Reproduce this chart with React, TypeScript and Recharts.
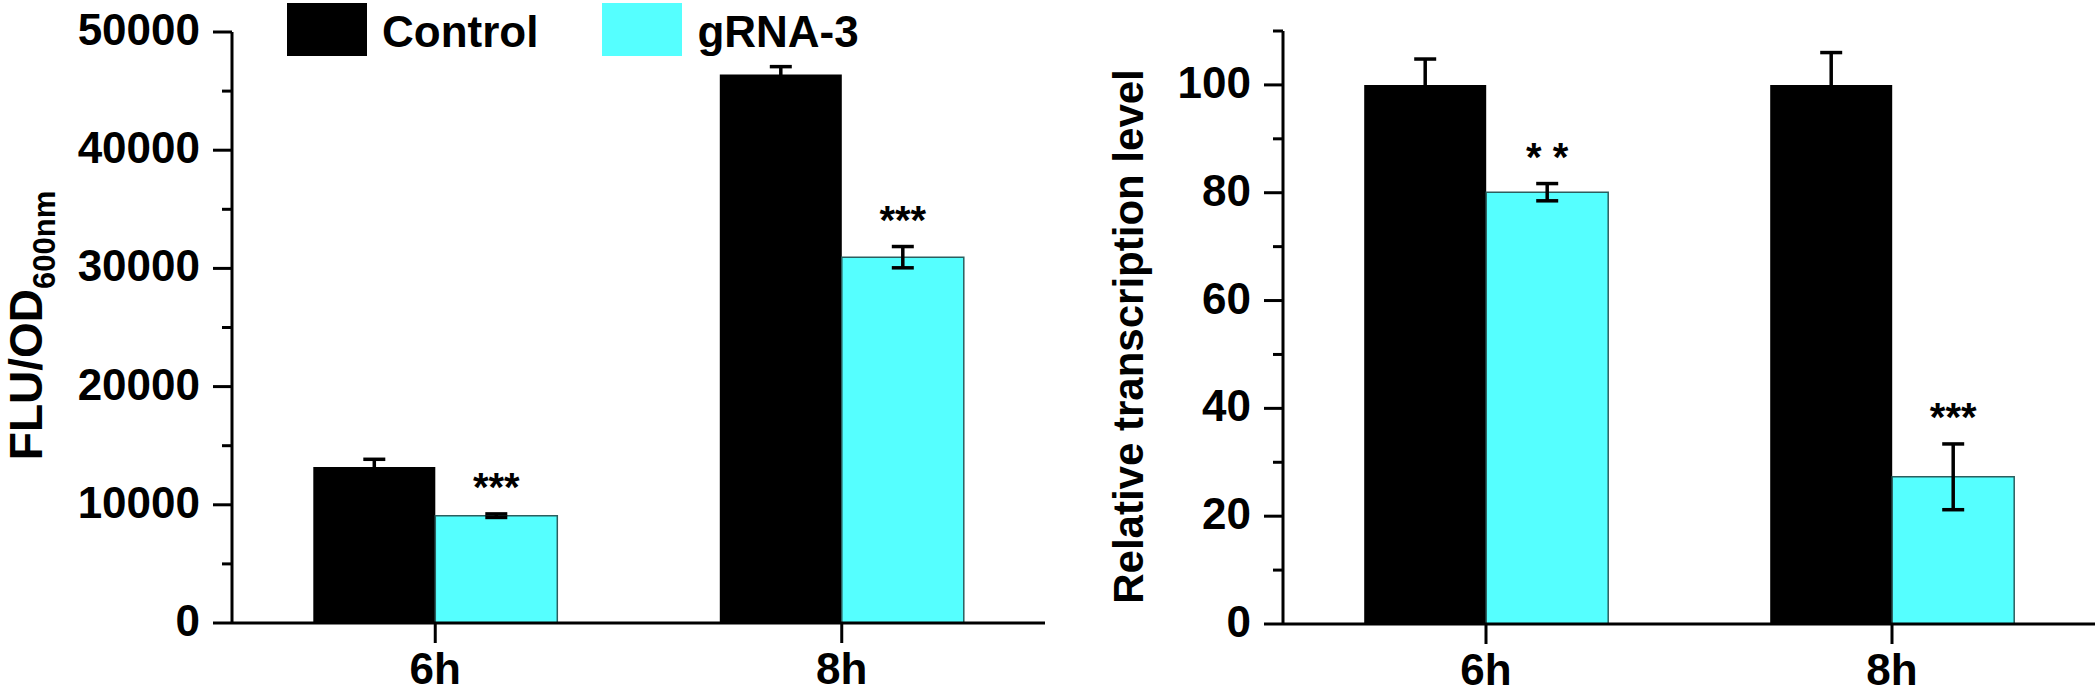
import React from 'react';
import { BarChart, Bar, XAxis, YAxis, ErrorBar, Legend, LabelList, Label } from 'recharts';

const FONT = '"Liberation Sans", Arial, Helvetica, sans-serif';
const CYAN = '#55ffff';

const times = ['6h', '8h'];

// left panel: FLU/OD600nm
const fluControl = [13200, 46400];
const fluControlErr = [650, 670];
const fluGrna = [9080, 30950];
const fluGrnaErr = [150, 900];
const fluStars = ['***', '***'];
const fluTicks = [0, 5000, 10000, 15000, 20000, 25000, 30000, 35000, 40000, 45000, 50000];

// right panel: relative transcription level
const txControl = [100, 100];
const txControlErr = [4.8, 6];
const txGrna = [80.1, 27.3];
const txGrnaErr = [1.6, 6.1];
const txStars = ['* *', '***'];
const txTicks = [0, 10, 20, 30, 40, 50, 60, 70, 80, 90, 100, 110];

const buildRows = (ctrl, ctrlErr, grna, grnaErr, stars) =>
  times.map((t, i) => ({
    time: t,
    control: ctrl[i],
    controlErr: ctrlErr[i],
    grna: grna[i],
    grnaErr: grnaErr[i],
    stars: stars[i],
  }));

const fluRows = buildRows(fluControl, fluControlErr, fluGrna, fluGrnaErr, fluStars);
const txRows = buildRows(txControl, txControlErr, txGrna, txGrnaErr, txStars);

// major ticks get a label and a long tick, minor ones only a short tick
const YTick = (props) => {
  const { x, y, payload, majorStep } = props;
  const major = payload.value % majorStep === 0;
  return (
    <g>
      <line x1={x - (major ? 19 : 10)} x2={x} y1={y} y2={y} stroke="#000" strokeWidth={3} />
      {major && (
        <text x={x - 32} y={y} dy={13} textAnchor="end" fontSize={44} fontWeight="bold" fontFamily={FONT} fill="#000">
          {payload.value}
        </text>
      )}
    </g>
  );
};

const XTick = (props) => {
  const { x, y, payload } = props;
  return (
    <g>
      <line x1={x} x2={x} y1={y} y2={y + 20} stroke="#000" strokeWidth={3} />
      <text x={x} y={y + 61} textAnchor="middle" fontSize={44} fontWeight="bold" fontFamily={FONT} fill="#000">
        {payload.value}
      </text>
    </g>
  );
};

// significance stars sit a little above the top of the error bar
const starLabel = (rows) => (p) => {
  const vb = p.viewBox || p;
  const { x, y, width, height } = vb;
  const row = rows[p.index] || rows.find((r) => r.stars === p.value);
  const errPx = row ? (row.grnaErr * Math.abs(height)) / row.grna : 0;
  const cy = Math.min(y, y + height) - errPx - 34;
  return (
    <text x={x + width / 2} y={cy + 21} textAnchor="middle" fontSize={40} fontWeight="bold" fontFamily={FONT} fill="#000">
      {p.value}
    </text>
  );
};

const LegendContent = ({ payload }) => (
  <div style={{ display: 'flex', alignItems: 'center' }}>
    {(payload || []).map((e, i) => (
      <div key={e.value} style={{ display: 'flex', alignItems: 'center', marginRight: i === 0 ? 64 : 0 }}>
        <div style={{ width: 80, height: 53, background: e.payload?.fill || e.color }} />
        <span
          style={{
            marginLeft: 15,
            fontSize: 44,
            fontWeight: 'bold',
            fontFamily: FONT,
            lineHeight: '53px',
            position: 'relative',
            top: 2,
            color: '#000',
          }}
        >
          {e.value}
        </span>
      </div>
    ))}
  </div>
);

const LeftYLabel = (p) => {
  const vb = p.viewBox;
  const cx = vb.x + 42;
  const cy = vb.y + vb.height / 2 - 2;
  return (
    <text
      x={cx}
      y={cy}
      transform={`rotate(-90, ${cx}, ${cy})`}
      textAnchor="middle"
      fontSize={46}
      fontWeight="bold"
      fontFamily={FONT}
      fill="#000"
    >
      FLU/OD
      <tspan fontSize={31} dy={13}>600nm</tspan>
    </text>
  );
};

const RightYLabel = (p) => {
  const vb = p.viewBox;
  const cx = vb.x + 83;
  const cy = vb.y + vb.height / 2 + 9;
  return (
    <text
      x={cx}
      y={cy}
      transform={`rotate(-90, ${cx}, ${cy})`}
      textAnchor="middle"
      fontSize={42}
      fontWeight="bold"
      fontFamily={FONT}
      fill="#000"
    >
      Relative transcription level
    </text>
  );
};

export default function App() {
  return (
    <div style={{ position: 'absolute', left: 0, top: 0, width: 2099, height: 695, background: '#fff' }}>
      <div style={{ position: 'absolute', left: 0, top: 0 }}>
        <BarChart
          width={1060}
          height={695}
          data={fluRows}
          margin={{ top: 32, right: 15, bottom: 0, left: 0 }}
          barCategoryGap="20%"
          barGap={0}
        >
          <XAxis
            dataKey="time"
            height={72}
            axisLine={{ stroke: '#000', strokeWidth: 3 }}
            tickLine={false}
            tickSize={0}
            tickMargin={0}
            tick={(p) => <XTick {...p} />}
          />
          <YAxis
            width={232}
            domain={[0, 50000]}
            ticks={fluTicks}
            interval={0}
            axisLine={{ stroke: '#000', strokeWidth: 3 }}
            tickLine={false}
            tickSize={0}
            tickMargin={0}
            tick={(p) => <YTick {...p} majorStep={10000} />}
          >
            <Label content={LeftYLabel} />
          </YAxis>
          <Legend
            layout="horizontal"
            verticalAlign="middle"
            align="center"
            wrapperStyle={{ top: 3, left: 287, width: 'auto' }}
            content={LegendContent}
          />
          <Bar dataKey="control" name="Control" fill="#000" isAnimationActive={false}>
            <ErrorBar dataKey="controlErr" width={11} stroke="#000" strokeWidth={3.5} direction="y" />
          </Bar>
          <Bar dataKey="grna" name="gRNA-3" fill={CYAN} stroke="#2b5f5f" strokeWidth={1.5} isAnimationActive={false}>
            <ErrorBar dataKey="grnaErr" width={11} stroke="#000" strokeWidth={3.5} direction="y" />
            <LabelList dataKey="stars" content={starLabel(fluRows)} />
          </Bar>
        </BarChart>
      </div>
      <div style={{ position: 'absolute', left: 1060, top: 0 }}>
        <BarChart
          width={1039}
          height={695}
          data={txRows}
          margin={{ top: 31, right: 4, bottom: 0, left: 0 }}
          barCategoryGap="20%"
          barGap={0}
        >
          <XAxis
            dataKey="time"
            height={71}
            axisLine={{ stroke: '#000', strokeWidth: 3 }}
            tickLine={false}
            tickSize={0}
            tickMargin={0}
            tick={(p) => <XTick {...p} />}
          />
          <YAxis
            width={223}
            domain={[0, 110]}
            ticks={txTicks}
            interval={0}
            axisLine={{ stroke: '#000', strokeWidth: 3 }}
            tickLine={false}
            tickSize={0}
            tickMargin={0}
            tick={(p) => <YTick {...p} majorStep={20} />}
          >
            <Label content={RightYLabel} />
          </YAxis>
          <Bar dataKey="control" name="Control" fill="#000" isAnimationActive={false}>
            <ErrorBar dataKey="controlErr" width={11} stroke="#000" strokeWidth={3.5} direction="y" />
          </Bar>
          <Bar dataKey="grna" name="gRNA-3" fill={CYAN} stroke="#2b5f5f" strokeWidth={1.5} isAnimationActive={false}>
            <ErrorBar dataKey="grnaErr" width={11} stroke="#000" strokeWidth={3.5} direction="y" />
            <LabelList dataKey="stars" content={starLabel(txRows)} />
          </Bar>
        </BarChart>
      </div>
    </div>
  );
}
